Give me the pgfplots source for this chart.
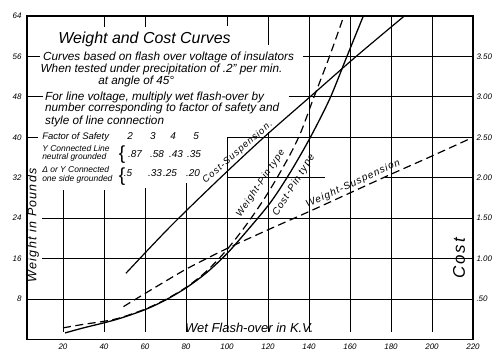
\documentclass[border=0pt]{standalone}
\usepackage{fontspec}
\setmainfont{Liberation Sans}
\newfontfamily\handls[LetterSpace=10]{Liberation Sans}
\usepackage{pgfplots}
\pgfplotsset{compat=1.18}
\tikzset{gl/.style={line width=0.85bp, black}}
\begin{document}
\begin{tikzpicture}[font=\itshape]
\begin{axis}[name=ax,
  scale only axis, width=446bp, height=323.5bp,
  xmin=2.44, xmax=220, ymin=0, ymax=64,
  axis line style={line width=1.1bp},
  xtick={20,40,...,220}, ytick={8,16,...,64},
  tick style={draw=none},
  ytick pos=left, xtick pos=bottom,
  /pgf/number format/assume math mode=true,
  ticklabel style={font=\itshape\fontsize{8}{9}\selectfont},
  yticklabel style={xshift=-2bp},
  xticklabel style={yshift=-1bp},
  clip=false,
]
% partial hand-drawn grid
\draw[gl] (axis cs:20,1.5) -- (axis cs:20,29.5);
\draw[gl] (axis cs:40,1.5) -- (axis cs:40,29.5);
\draw[gl] (axis cs:40,61.8) -- (axis cs:40,64);
\draw[gl] (axis cs:60,1.5) -- (axis cs:60,30);
\draw[gl] (axis cs:60,61.8) -- (axis cs:60,64);
\draw[gl] (axis cs:80,1.5) -- (axis cs:80,31);
\draw[gl] (axis cs:100,1.5) -- (axis cs:100,40);
\draw[gl] (axis cs:100,62) -- (axis cs:100,64);
\draw[gl] (axis cs:120,1.5) -- (axis cs:120,41);
\draw[gl] (axis cs:120,58.3) -- (axis cs:120,64);
\draw[gl] (axis cs:140,1.5) -- (axis cs:140,64);
\draw[gl] (axis cs:160,1.5) -- (axis cs:160,64);
\draw[gl] (axis cs:180,1.5) -- (axis cs:180,64);
\draw[gl] (axis cs:200,1.5) -- (axis cs:200,64);
\draw[gl] (axis cs:2.44,8) -- (axis cs:220,8);
\draw[gl] (axis cs:9.8,16) -- (axis cs:220,16);
\draw[gl] (axis cs:9.8,24) -- (axis cs:220,24);
\draw[gl] (axis cs:100,32) -- (axis cs:148,32);
\draw[gl] (axis cs:177,32) -- (axis cs:220,32);
\draw[gl] (axis cs:100,40) -- (axis cs:220,40);
\draw[gl] (axis cs:2.44,40) -- (axis cs:7.8,40);
\draw[gl] (axis cs:130,48) -- (axis cs:220,48);
\draw[gl] (axis cs:2.44,48) -- (axis cs:10.2,48);
\draw[gl] (axis cs:137,56) -- (axis cs:220,56);
\draw[gl] (axis cs:2.44,56) -- (axis cs:8.8,56);

% Cost - Suspension
\addplot[black, line width=1.2bp, smooth, tension=0.5] coordinates {
(50.7,13.1) (72,22.2) (95,31.3) (118,40) (140.5,48) (163,56) (186.5,64)};
% Weight - Suspension
\addplot[black, line width=1.2bp, dash pattern=on 8bp off 4.5bp, smooth, tension=0.4] coordinates {
(49.5,6.5) (60,9.1) (80,13.9) (100,18) (120,21.7) (140,25.3) (160,29) (180,32.7) (200,36.3) (220,40)};
% Weight - Pin type
\addplot[black, line width=1.2bp, dash pattern=on 8bp off 4.5bp, smooth, tension=0.5] coordinates {
(20,2.3) (30,3.0) (40,3.6) (48,4.3) (60,6.0) (70,7.9) (80,10.3) (90,13.5) (100,17.8) (110,23) (120,29) (130,36) (136,41) (142,47.5) (150,56) (157,64)};
% Cost - Pin type
\addplot[black, line width=1.3bp, smooth, tension=0.5] coordinates {
(21,1.3) (30,2.3) (40,3.3) (48,4.2) (60,5.9) (70,7.8) (80,10.2) (90,13.2) (100,17) (110,21.6) (121,27) (130,32.5) (140,39.5) (150,47.5) (158,55.5) (166.5,64)};

% curve labels
\node[rotate=41, inner sep=0, font=\handls\itshape\fontsize{9.5}{11}\selectfont] at (axis cs:105.2,37.0) {Cost-Suspension.};
\node[rotate=56, inner sep=0, font=\handls\itshape\fontsize{9.5}{11}\selectfont] at (axis cs:116.4,30.9) {Weight-Pin type};
\node[rotate=58, inner sep=0, font=\handls\itshape\fontsize{10}{11}\selectfont] at (axis cs:132.6,30.5) {Cost-Pin type};
\node[rotate=24.6, inner sep=0, font=\handls\itshape\fontsize{10}{11}\selectfont] at (axis cs:161.5,30.8) {Weight-Suspension};

% text block
\node[anchor=base west, inner sep=0, font=\itshape\fontsize{16}{18}\selectfont] at (axis cs:17.6,58.6) {Weight and Cost Curves};
\begin{scope}[every node/.style={anchor=base west, inner sep=0, font=\itshape\fontsize{11.8}{13}\selectfont}]
\node at (axis cs:10.2,55.2) {Curves based on flash over voltage of insulators};
\node at (axis cs:9.0,52.9) {When tested under precipitation of .2" per min.};
\node at (axis cs:37.1,50.5) {at angle of 45°};
\node at (axis cs:11.2,47.3) {For line voltage, multiply wet flash-over by};
\node at (axis cs:11.2,45.1) {number corresponding to factor of safety and};
\node at (axis cs:11.2,42.6) {style of line connection};
\end{scope}
\begin{scope}[every node/.style={anchor=base west, inner sep=0, font=\itshape\fontsize{9.5}{11}\selectfont}]
\node at (axis cs:9.8,39.5) {Factor of Safety};
\node[font=\itshape\fontsize{8.5}{10}\selectfont] at (axis cs:9.8,37.1) {Y Connected Line};
\node[font=\itshape\fontsize{8.5}{10}\selectfont] at (axis cs:9.8,35.6) {neutral grounded};
\node[font=\itshape\fontsize{8.5}{10}\selectfont] at (axis cs:9.8,33.0) {Δ or Y Connected};
\node[font=\itshape\fontsize{8.5}{10}\selectfont] at (axis cs:9.8,31.2) {one side grounded};
\end{scope}
\node[font=\fontsize{19}{20}\selectfont, inner sep=0] at (axis cs:48.8,36.6) {\{};
\node[font=\fontsize{19}{20}\selectfont, inner sep=0] at (axis cs:48.8,32.3) {\{};
\begin{scope}[every node/.style={anchor=base, inner sep=0, font=\itshape\fontsize{10}{11}\selectfont}]
\node at (axis cs:52.7,39.5) {2};
\node at (axis cs:63.9,39.5) {3};
\node at (axis cs:73.7,39.5) {4};
\node at (axis cs:84.9,39.5) {5};
\node at (axis cs:55.1,36.1) {.87};
\node at (axis cs:65.9,36.1) {.58};
\node at (axis cs:75.1,36.1) {.43};
\node at (axis cs:83.9,36.1) {.35};
\node at (axis cs:51.7,32.2) {.5};
\node at (axis cs:64.9,32.2) {.33};
\node at (axis cs:72.2,32.2) {.25};
\node at (axis cs:83.4,32.2) {.20};
\end{scope}

% axis titles
\node[anchor=base west, inner sep=0, font=\itshape\fontsize{13}{14}\selectfont] at (axis cs:79.5,1.3) {Wet Flash-over in K.V.};
\node[rotate=90, font=\handls\itshape\fontsize{12.5}{14}\selectfont] at (axis cs:5.4,22.6) {Weight in Pounds};
\node[rotate=90, font=\handls\itshape\fontsize{17}{20}\selectfont] at (axis cs:213.2,16.1) {Cost};
\end{axis}

\begin{axis}[at={(ax.south west)}, anchor=south west,
  scale only axis, width=446bp, height=323.5bp,
  xmin=2.44, xmax=220, ymin=0, ymax=4,
  hide x axis, axis y line*=right,
  axis line style={draw=none},
  tick style={draw=none},
  ytick={0.5,1,1.5,2,2.5,3,3.5},
  yticklabels={.50,1.00,1.50,2.00,2.50,3.00,3.50},
  yticklabel style={font=\itshape\fontsize{8}{9}\selectfont, xshift=0bp},
]
\addplot[draw=none] coordinates {(10,1)};
\end{axis}
\path ([shift={(-27bp,-20.5bp)}]ax.south west) rectangle ([shift={(27bp,16bp)}]ax.north east);
\end{tikzpicture}
\end{document}
